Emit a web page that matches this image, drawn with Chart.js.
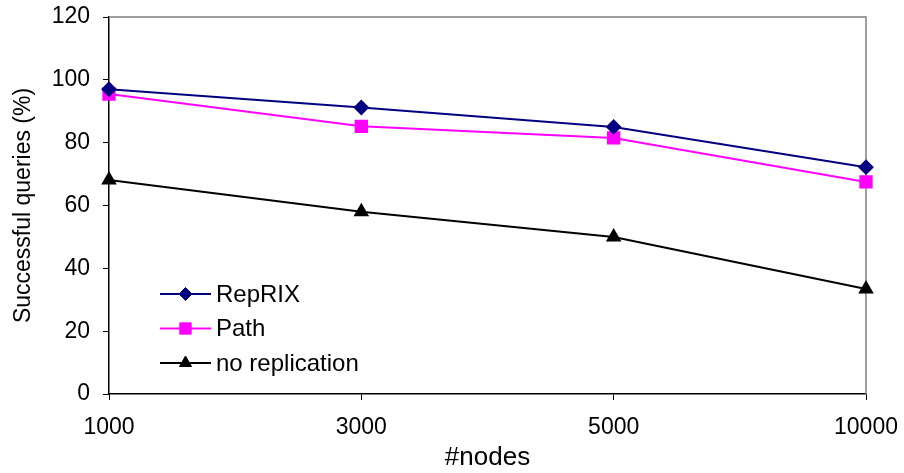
<!DOCTYPE html>
<html>
<head>
<meta charset="utf-8">
<script src="https://cdn.jsdelivr.net/npm/chart.js@4/dist/chart.umd.min.js"></script>
<style>
  html, body { margin: 0; padding: 0; background: #fff; }
  #wrap { width: 904px; height: 473px; }
</style>
</head>
<body>
<div id="wrap"><canvas id="grafico"></canvas></div>
<script>
/* datos */
var nodos = ['1000', '3000', '5000', '10000'];
var repRIX = [97, 91.2, 85, 72.2];
var path = [95.5, 85.2, 81.5, 67.5];
var noReplication = [68.1, 58, 50, 33.4];
var yTicks = [0, 20, 40, 60, 80, 100, 120];

var fuente = 'Arial, "Liberation Sans", sans-serif';

/* borde gris arriba y a la derecha */
var bordeArea = {
    id: 'bordeArea',
    beforeDatasetsDraw: function (chart) {
        var a = chart.chartArea, ctx = chart.ctx;
        ctx.save();
        ctx.strokeStyle = '#808080';
        ctx.lineWidth = 1.5;
        ctx.beginPath();
        ctx.moveTo(a.left, a.top);
        ctx.lineTo(a.right, a.top);
        ctx.lineTo(a.right, a.bottom);
        ctx.stroke();
        ctx.restore();
    }
};

/* leyenda dentro del area */
var leyenda = {
    id: 'leyenda',
    afterDatasetsDraw: function (chart) {
        var ctx = chart.ctx;
        var x0 = 160, x1 = 211, y = 294;
        ctx.save();
        ctx.font = '24px ' + fuente;
        ctx.textBaseline = 'middle';
        chart.data.datasets.forEach(function (ds) {
            ctx.strokeStyle = ds.borderColor;
            ctx.fillStyle = ds.borderColor;
            ctx.lineWidth = 2;
            ctx.beginPath();
            ctx.moveTo(x0, y);
            ctx.lineTo(x1, y);
            ctx.stroke();
            ctx.lineWidth = 1;
            Chart.helpers.drawPoint(ctx, {
                pointStyle: ds.pointStyle,
                radius: ds.pointRadius,
                borderWidth: 1
            }, (x0 + x1) / 2, y);
            ctx.fillStyle = '#000';
            ctx.fillText(ds.label, 216, y + 1);
            y += 34.5;
        });
        ctx.restore();
    }
};

function serie(label, data, color, estilo, radio) {
    return {
        label: label,
        data: data,
        borderColor: color,
        backgroundColor: color,
        pointBackgroundColor: color,
        pointBorderColor: color,
        borderWidth: 2,
        pointStyle: estilo,
        pointRadius: radio,
        pointHoverRadius: radio,
        tension: 0,
        fill: false
    };
}

var marco = document.getElementById('grafico').getContext('2d');

var grafico = new Chart(marco, {
    type: 'line',
    data: {
        labels: nodos,
        datasets: [
            serie('RepRIX', repRIX, '#000080', 'rectRot', 6.5),
            serie('Path', path, '#FF00FF', 'rect', 8),
            serie('no replication', noReplication, '#000000', 'triangle', 7)
        ]
    },
    options: {
        responsive: true,
        maintainAspectRatio: false,
        animation: false,
        layout: { padding: 0 },
        plugins: {
            legend: { display: false },
            tooltip: { enabled: false }
        },
        scales: {
            x: {
                offset: false,
                grid: { drawOnChartArea: false, drawTicks: true, tickLength: 6, color: '#000' },
                border: { display: true, color: '#000', width: 1.5 },
                ticks: { color: '#000', padding: 14, maxRotation: 0, font: { family: fuente, size: 23 } },
                title: { display: true, text: '#nodes', color: '#000', padding: { top: 1, bottom: 0 }, font: { family: fuente, size: 26 } },
                afterFit: function (scale) {
                    scale.height = 79;
                    scale.paddingLeft = 0;
                    scale.paddingRight = 38;
                }
            },
            y: {
                min: 0,
                max: 120,
                afterBuildTicks: function (scale) {
                    scale.ticks = yTicks.map(function (v) { return { value: v }; });
                },
                grid: { drawOnChartArea: false, drawTicks: true, tickLength: 6, color: '#000' },
                border: { display: true, color: '#000', width: 1.5 },
                ticks: { color: '#000', padding: 13, font: { family: fuente, size: 23 } },
                title: { display: true, text: 'Successful queries (%)', color: '#000', padding: { top: 10, bottom: 4 }, font: { family: fuente, size: 23 } },
                afterFit: function (scale) {
                    scale.width = 109;
                    scale.paddingTop = 17;
                    scale.paddingBottom = 0;
                }
            }
        }
    },
    plugins: [bordeArea, leyenda]
});
</script>
</body>
</html>
